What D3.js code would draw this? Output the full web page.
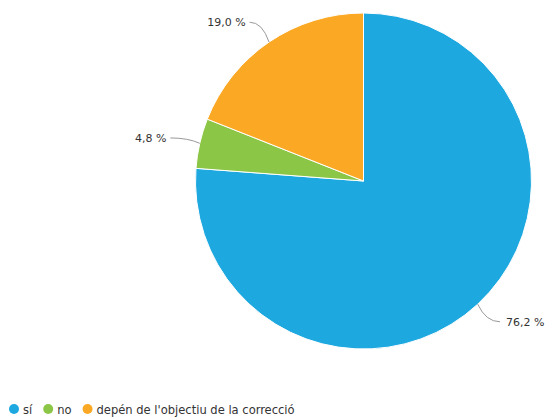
<!DOCTYPE html>
<html>
<head>
<meta charset="utf-8">
<script src="https://cdn.jsdelivr.net/npm/d3@7"></script>
<style>
  html, body { margin: 0; padding: 0; background: #fff; }
  svg { display: block; }
  .label { font-family: "DejaVu Sans", sans-serif; font-size: 11px; fill: #333; }
  .legend text { font-family: "DejaVu Sans Condensed", "DejaVu Sans", sans-serif; font-size: 12.8px; fill: #333; }
</style>
</head>
<body>
<svg id="chart" width="547" height="418"></svg>
<script>
const categories = ['sí', 'no', "depén de l'objectiu de la correcció"];
const values = [76.2, 4.8, 19.0];
const colors = ['#1ea8e0', '#8bc646', '#fba924'];

const svg = d3.select('#chart');
const cx = 363.5, cy = 181, r = 168;
const fmt = v => v.toFixed(1).replace('.', ',') + ' %';

const pie = d3.pie().sort(null).value(d => d.value);
const arcs = pie(values.map((value, i) => ({ value, name: categories[i], color: colors[i] })));
const arc = d3.arc().innerRadius(0).outerRadius(r);

const g = svg.append('g').attr('transform', `translate(${cx},${cy})`);

g.selectAll('path.slice')
  .data(arcs)
  .join('path')
  .attr('class', 'slice')
  .attr('d', arc)
  .attr('fill', d => d.data.color)
  .attr('stroke', '#fff')
  .attr('stroke-width', 1);

// data labels with curved connectors
const polar = (a, rad) => [rad * Math.sin(a), -rad * Math.cos(a)];
const labels = g.append('g');
arcs.forEach(d => {
  const mid = (d.startAngle + d.endAngle) / 2;
  const right = Math.sin(mid) >= 0;
  const [ax, ay] = polar(mid, r);
  const [bx, by] = polar(mid, r + 12);
  const [lx, ly] = polar(mid, r + 24);
  const ex = lx + (right ? 6 : -6);
  labels.append('path')
    .attr('d', `M${ax},${ay} Q${bx},${ly} ${ex},${ly}`)
    .attr('fill', 'none')
    .attr('stroke', '#999')
    .attr('stroke-width', 1);
  labels.append('text')
    .attr('class', 'label')
    .attr('x', ex + (right ? 6 : -4))
    .attr('y', ly + 4)
    .attr('text-anchor', right ? 'start' : 'end')
    .text(fmt(d.data.value));
});

// legend
const legend = svg.append('g').attr('class', 'legend').attr('transform', 'translate(0,409)');
let x = 14;
categories.forEach((name, i) => {
  legend.append('circle').attr('cx', x).attr('cy', 0).attr('r', 5).attr('fill', colors[i]);
  const t = legend.append('text').attr('x', x + 9).attr('y', 4.5).text(name);
  x += 9 + t.node().getComputedTextLength() + 16;
});
</script>
</body>
</html>
